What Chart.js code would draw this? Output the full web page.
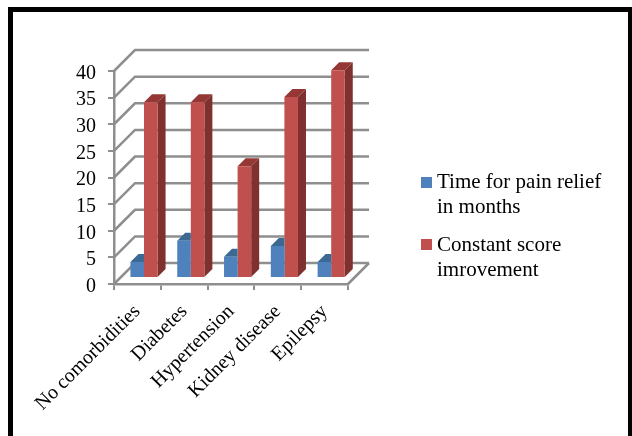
<!DOCTYPE html>
<html>
<head>
<meta charset="utf-8">
<style>
  html, body { margin: 0; padding: 0; background: #fff; }
  #wrap { position: relative; width: 632px; height: 436px; overflow: hidden; }
  #frame { position: absolute; left: 8px; top: 7px; width: 625px; height: 445px; border: 5px solid #000; box-sizing: border-box; }
  canvas { position: absolute; left: 0; top: 0; }
</style>
<script src="https://cdn.jsdelivr.net/npm/chart.js@4"></script>
</head>
<body>
<div id="wrap">
  <div id="frame"></div>
  <canvas id="chart" width="632" height="436"></canvas>
</div>
<script>
// Comorbidity data
const categories = ['No comorbidities', 'Diabetes', 'Hypertension', 'Kidney disease', 'Epilepsy'];
const painRelief = [3, 7, 4, 6, 3];
const scoreGain = [33, 33, 21, 34, 39];
const seriesNames = ['Time for pain relief in months', 'Constant score imrovement'];
const legendLines = [['Time for pain relief', 'in months'], ['Constant score', 'imrovement']];

const GREY = '#8e8e8e';
const SERIF = '"Liberation Serif", serif';
const WALL = 21;   // depth of the box
const LIFT = 6;    // bars stand this far back on the floor
const SIDE = 8;    // depth of one bar

const faces = [
  { front: '#4f81bd', top: '#3c6894', side: '#38618c' },
  { front: '#c0504d', top: '#953735', side: '#7f312f' }
];

// back wall, floor and the slanted side wall, then the bar depth faces per dataset
const boxPlugin = {
  id: 'box',
  beforeDatasetsDraw(chart) {
    const { ctx, scales: { x, y } } = chart;
    const zero = y.getPixelForValue(0);
    ctx.save();
    ctx.strokeStyle = GREY;
    ctx.lineWidth = 2.5;
    y.ticks.forEach(t => {
      const py = y.getPixelForValue(t.value);
      ctx.beginPath();
      ctx.moveTo(x.left, py);
      ctx.lineTo(x.left + WALL, py - WALL);
      ctx.lineTo(x.right + WALL, py - WALL);
      ctx.stroke();
    });
    // floor edge on the right
    ctx.beginPath();
    ctx.moveTo(x.right, zero);
    ctx.lineTo(x.right + WALL, zero - WALL);
    ctx.stroke();
    ctx.restore();
    // bars sit a little behind the front edge
    ctx.save();
    ctx.translate(LIFT + 0.6, -LIFT);
  },
  beforeDatasetDraw(chart, args) {
    const { ctx } = chart;
    const f = faces[args.index];
    args.meta.data.forEach(bar => {
      const l = bar.x - bar.width / 2, r = bar.x + bar.width / 2;
      ctx.save();
      // the blue depth runs behind the red bar next to it
      if (args.index === 0) {
        ctx.beginPath();
        ctx.rect(l, 0, bar.width, chart.height);
        ctx.clip();
      }
      ctx.fillStyle = f.top;
      ctx.beginPath();
      ctx.moveTo(l, bar.y);
      ctx.lineTo(l + SIDE, bar.y - SIDE);
      ctx.lineTo(r + SIDE, bar.y - SIDE);
      ctx.lineTo(r, bar.y);
      ctx.closePath();
      ctx.fill();
      ctx.fillStyle = f.side;
      ctx.beginPath();
      ctx.moveTo(r, bar.y);
      ctx.lineTo(r + SIDE, bar.y - SIDE);
      ctx.lineTo(r + SIDE, bar.base - SIDE);
      ctx.lineTo(r, bar.base);
      ctx.closePath();
      ctx.fill();
      ctx.restore();
    });
  },
  afterDatasetsDraw(chart) {
    chart.ctx.restore();
  }
};

// two-line legend on the right
const legendPlugin = {
  id: 'sideLegend',
  afterDraw(chart) {
    const { ctx } = chart;
    const swatchTop = [177, 239];
    const baselines = [[188, 213], [251, 276]];
    ctx.save();
    ctx.font = '21px ' + SERIF;
    ctx.textBaseline = 'alphabetic';
    legendLines.forEach((lines, i) => {
      ctx.fillStyle = faces[i].front;
      ctx.fillRect(421, swatchTop[i], 11, 11);
      ctx.fillStyle = '#000';
      lines.forEach((line, j) => ctx.fillText(line, 437, baselines[i][j]));
    });
    ctx.restore();
  }
};

new Chart(document.getElementById('chart'), {
  type: 'bar',
  data: {
    labels: categories,
    datasets: [
      { label: seriesNames[0], data: painRelief, backgroundColor: faces[0].front },
      { label: seriesNames[1], data: scoreGain, backgroundColor: faces[1].front }
    ]
  },
  options: {
    responsive: false,
    animation: false,
    categoryPercentage: 0.58,
    barPercentage: 1,
    layout: { padding: { top: 71, right: 284, left: 0, bottom: 0 } },
    plugins: { legend: { display: false }, tooltip: { enabled: false }, title: { display: false } },
    scales: {
      x: {
        afterFit(s) { s.height = 152; },
        border: { color: GREY, width: 2.5 },
        grid: { drawOnChartArea: false, drawTicks: true, tickLength: 6, color: GREY, lineWidth: 2 },
        ticks: {
          autoSkip: false, minRotation: 45, maxRotation: 45, padding: 10, color: '#000',
          font: { family: SERIF, size: 20 }
        }
      },
      y: {
        min: 0, max: 40,
        afterFit(s) { s.width = 114; },
        border: { color: GREY, width: 2.5 },
        grid: { drawOnChartArea: false, drawTicks: true, tickLength: 6, color: GREY, lineWidth: 2 },
        ticks: {
          autoSkip: false, stepSize: 5, padding: 12, color: '#000',
          // empty first line with a short line height moves the digits down onto the tick
          callback: v => ['', String(v)],
          font: { family: SERIF, size: 20, lineHeight: 0.25 }
        }
      }
    }
  },
  plugins: [boxPlugin, legendPlugin]
});
</script>
</body>
</html>
